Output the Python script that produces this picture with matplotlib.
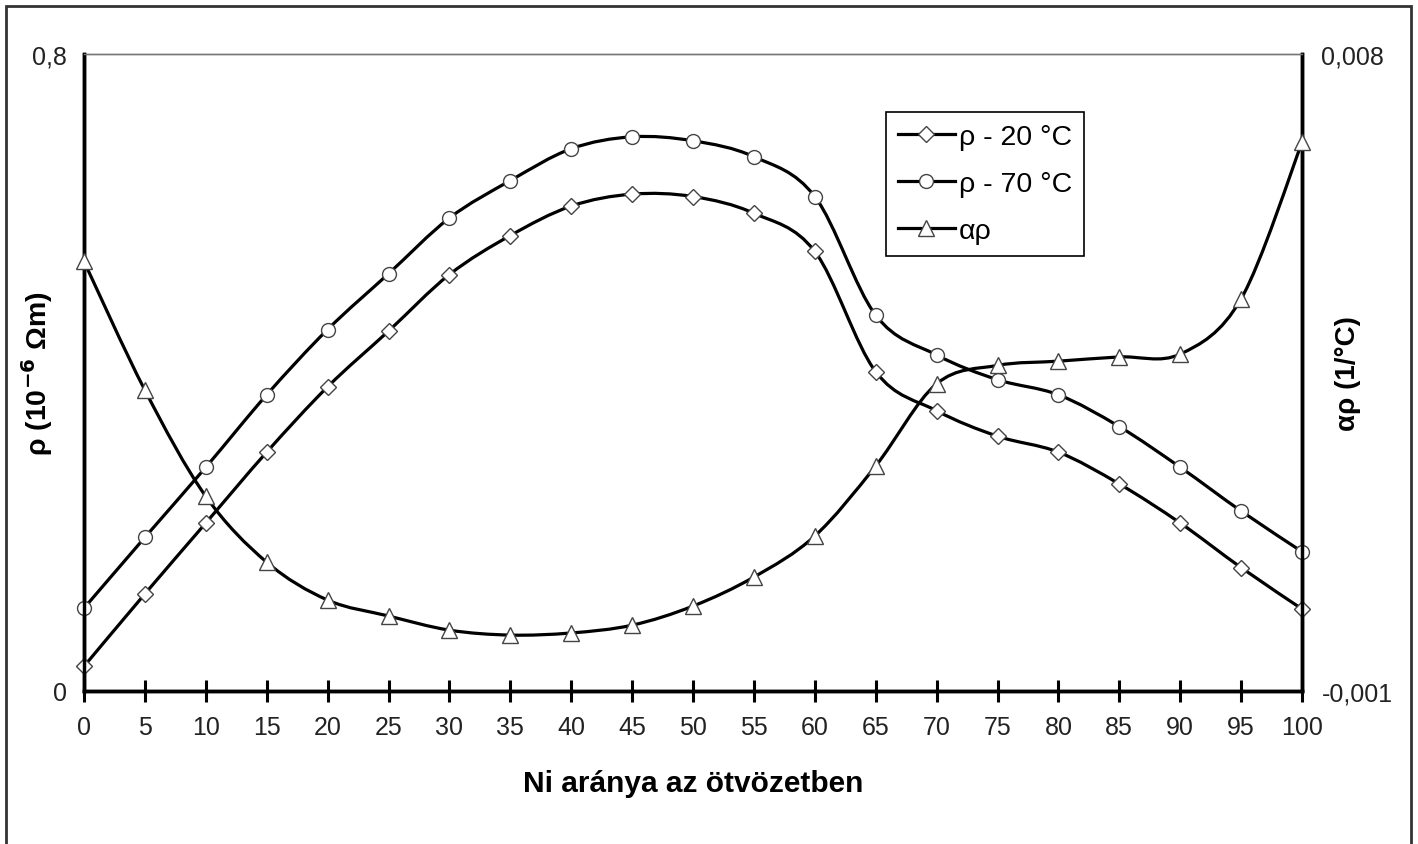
import matplotlib
matplotlib.use('Agg')
import matplotlib.pyplot as plt
from matplotlib.path import Path
from matplotlib.patches import PathPatch, Rectangle
from matplotlib.lines import Line2D
import numpy as np

plt.rcParams['font.family'] = ['Liberation Sans', 'DejaVu Sans']

ni = [0, 5, 10, 15, 20, 25, 30, 35, 40, 45, 50, 55, 60, 65, 70, 75, 80, 85, 90, 95, 100]
rho_20 = [0.031, 0.122, 0.211, 0.300, 0.382, 0.452, 0.523, 0.572, 0.609, 0.624, 0.621,
          0.600, 0.552, 0.401, 0.352, 0.320, 0.300, 0.260, 0.211, 0.155, 0.103]
rho_70 = [0.104, 0.193, 0.281, 0.372, 0.454, 0.524, 0.594, 0.641, 0.681, 0.696, 0.691,
          0.671, 0.621, 0.472, 0.422, 0.391, 0.372, 0.332, 0.281, 0.226, 0.175]
alpha_rho = [0.00507, 0.00325, 0.00175, 0.00082, 0.000285, 0.00006, -0.00014, -0.00021,
             -0.00018, -0.00007, 0.0002, 0.00061, 0.00119, 0.00218, 0.00334, 0.0036,
             0.00366, 0.00372, 0.00376, 0.00454, 0.00675]
labels = ['ρ - 20 °C', 'ρ - 70 °C', 'αρ']


def smooth_path(x, y):
    # Catmull-Rom through the points, drawn as cubic Bezier segments
    p = np.column_stack([x, y]).astype(float)
    pts = np.vstack([p[0], p, p[-1]])
    verts = [p[0]]
    codes = [Path.MOVETO]
    for i in range(1, len(pts) - 2):
        c1 = pts[i] + (pts[i + 1] - pts[i - 1]) / 6
        c2 = pts[i + 1] - (pts[i + 2] - pts[i]) / 6
        verts += [c1, c2, pts[i + 1]]
        codes += [Path.CURVE4] * 3
    return Path(verts, codes)


fig = plt.figure(figsize=(14.18, 8.45), dpi=100)
fig.patches.append(Rectangle((6 / 1418, -0.05), 1405 / 1418, 0.05 + (845 - 7) / 845,
                             transform=fig.transFigure, fill=False,
                             edgecolor='#333333', linewidth=2))

ax = fig.add_axes([84 / 1418, (845 - 692) / 845, (1302 - 84) / 1418, (692 - 55) / 845])
ax2 = ax.twinx()

lw = 2.3
mk = dict(markerfacecolor='white', markeredgecolor='#444444', markeredgewidth=1.0,
          linestyle='none', clip_on=False, zorder=5)

ax.add_patch(PathPatch(smooth_path(ni, rho_20), fill=False, lw=lw, edgecolor='black',
                       transform=ax.transData, clip_on=False))
ax.add_patch(PathPatch(smooth_path(ni, rho_70), fill=False, lw=lw, edgecolor='black',
                       transform=ax.transData, clip_on=False))
ax2.add_patch(PathPatch(smooth_path(ni, alpha_rho), fill=False, lw=lw, edgecolor='black',
                        transform=ax2.transData, clip_on=False))
ax.plot(ni, rho_20, marker='D', markersize=8, **mk)
ax.plot(ni, rho_70, marker='o', markersize=10, **mk)
ax2.plot(ni, alpha_rho, marker='^', markersize=11, **mk)

ax.set_xlim(0, 100)
ax.set_ylim(0, 0.8)
ax2.set_ylim(-0.001, 0.008)

ax.set_xticks(ni)
ax.set_xticklabels([str(v) for v in ni])
ax.set_yticks([0, 0.8])
ax.set_yticklabels(['0', '0,8'])
ax2.set_yticks([-0.001, 0.008])
ax2.set_yticklabels(['-0,001', '0,008'])

ax.tick_params(axis='x', direction='inout', length=16, width=2.2, labelsize=18,
               pad=9, colors='black', labelcolor='#222222')
ax.tick_params(axis='y', length=0, labelsize=18, pad=12, labelcolor='#222222')
ax2.tick_params(axis='y', length=0, labelsize=18, pad=14, labelcolor='#222222')

for a in (ax, ax2):
    a.spines['left'].set_linewidth(2.5)
    a.spines['right'].set_linewidth(2.5)
    a.spines['bottom'].set_linewidth(2.5)
    a.spines['top'].set_linewidth(1.0)
    a.spines['top'].set_color('#777777')

ax.set_xlabel('Ni aránya az ötvözetben', fontsize=21.5, fontweight='bold', labelpad=22)
ax.set_ylabel('ρ (10$^{\\mathbf{-6}}$ Ωm)', fontsize=20.5, fontweight='bold')
ax.yaxis.set_label_coords(-29 / 1218, 0.5)
ax2.set_ylabel('αρ (1/°C)', fontsize=20, fontweight='bold', rotation=90)
ax2.yaxis.set_label_coords(1 + 33 / 1218, 0.5)

handles = [
    Line2D([], [], color='black', lw=lw, marker='D', markersize=8,
           markerfacecolor='white', markeredgecolor='#444444', markeredgewidth=1.0),
    Line2D([], [], color='black', lw=lw, marker='o', markersize=10,
           markerfacecolor='white', markeredgecolor='#444444', markeredgewidth=1.0),
    Line2D([], [], color='black', lw=lw, marker='^', markersize=11,
           markerfacecolor='white', markeredgecolor='#444444', markeredgewidth=1.0),
]
leg = ax.legend(handles, labels, loc='upper left',
                bbox_to_anchor=(886 / 1418, (845 - 113) / 845),
                bbox_transform=fig.transFigure, fontsize=20.5, frameon=True,
                fancybox=False, edgecolor='black', framealpha=1,
                handlelength=2.0, handletextpad=0.15, borderpad=0.42,
                labelspacing=0.74, borderaxespad=0)
leg.get_frame().set_linewidth(1.2)

fig.savefig('out.png', dpi=100)
